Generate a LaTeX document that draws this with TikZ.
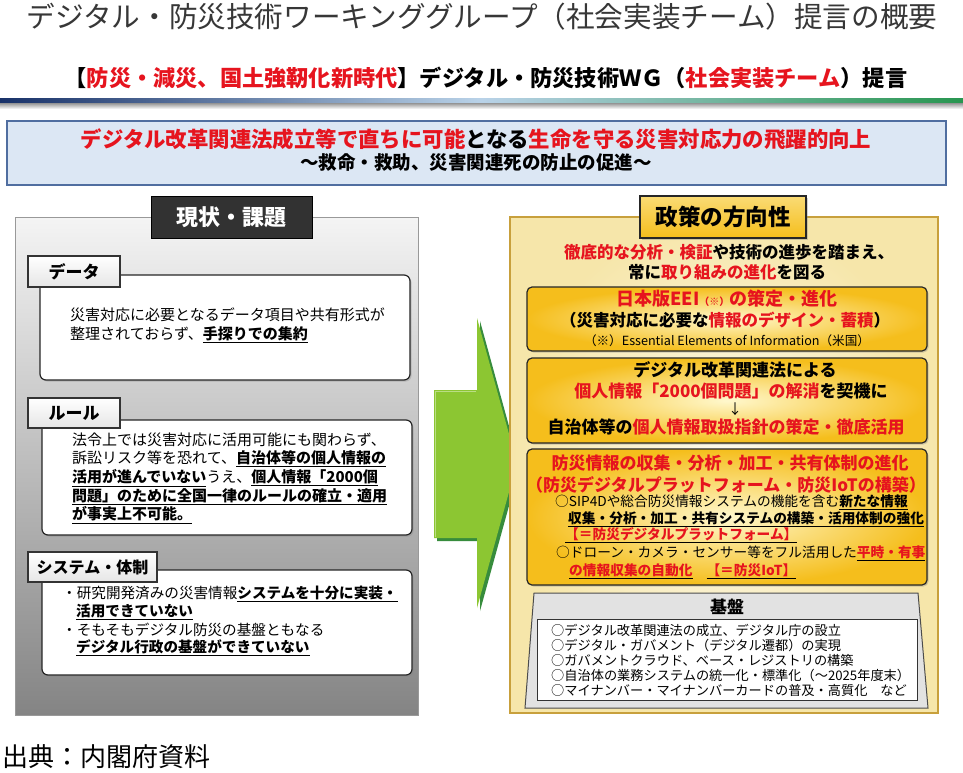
\documentclass[tikz,border=0pt]{standalone}
\usepackage{fontspec}
\setmainfont{Noto Sans CJK JP}
\usetikzlibrary{shadows}
\definecolor{jred}{RGB}{230,20,30}
\definecolor{ttl}{RGB}{55,55,55}
\definecolor{barnavy}{RGB}{25,50,105}
\definecolor{barblue}{RGB}{185,210,232}
\definecolor{bargreen}{RGB}{40,150,80}
\definecolor{headfill}{RGB}{220,231,244}
\definecolor{headdraw}{RGB}{80,110,160}
\definecolor{lgtop}{RGB}{244,244,244}
\definecolor{lgbot}{RGB}{132,132,132}
\definecolor{darkhd}{RGB}{50,50,50}
\definecolor{goldline}{RGB}{200,160,60}
\definecolor{goldfill}{RGB}{245,190,28}
\definecolor{goldlight}{RGB}{255,248,205}
\definecolor{cream}{RGB}{254,251,238}
\definecolor{creamdark}{RGB}{246,230,170}
\definecolor{agreen}{RGB}{140,198,50}
\definecolor{adark}{RGB}{55,140,60}
\definecolor{kiban}{RGB}{226,226,226}
\newcommand{\fs}[2]{\fontsize{#1}{#2}\selectfont}
\newcommand{\uln}[1]{\underline{#1}}
\newcommand{\rd}[1]{\textcolor{jred}{#1}}
\tikzset{
  ln/.style={anchor=west, inner sep=0pt},
  lc/.style={anchor=center, inner sep=0pt},
  tabbox/.style={draw=black!80, line width=1.3pt, top color=white, bottom color=black!10, inner sep=0pt},
  card/.style={draw=black!85, line width=1.2pt, rounded corners=6pt, fill=white, inner sep=0pt,
     drop shadow={opacity=0.35, shadow xshift=1.5pt, shadow yshift=-1.5pt}},
  gbox/.style={draw=black!85, line width=1.2pt, rounded corners=5pt, inner color=goldlight, outer color=goldfill, inner sep=0pt,
     drop shadow={opacity=0.35, shadow xshift=1.5pt, shadow yshift=-1.5pt}},
  lft/.style={font=\fs{15}{18}},
  rgt/.style={font=\fs{13.7}{17}},
  kb/.style={font=\fs{13.2}{15}}
}
\begin{document}
\begin{tikzpicture}[x=1pt,y=-1pt]
\useasboundingbox (0,0) rectangle (963,773);
\fill[white] (0,0) rectangle (963,773);

% title
\node[lc, text=ttl, font=\fs{28.6}{32}] (title) at (482,17) {デジタル・防災技術ワーキンググループ（社会実装チーム）提言の概要};
\node[lc, font=\fs{22.2}{25}\bfseries] (sub) at (486,78) {【\rd{防災・減災、国土強靭化新時代}】デジタル・防災技術ＷＧ（\rd{社会実装チーム}）提言};
\shade[left color=barnavy, right color=bargreen, middle color=barblue] (0,99) rectangle (963,104);
\shade[top color=black!35, bottom color=white] (0,104) rectangle (963,109);

% headline box
\node[draw=headdraw, line width=1.3pt, fill=headfill, minimum width=939, minimum height=64, inner sep=0pt] (headbox) at (476.5,153) {};
\node[lc, font=\fs{21.4}{24}\bfseries, text=jred] (head1) at (476,139) {デジタル改革関連法成立等で直ちに可能\textcolor{black}{となる}生命を守る災害対応力の飛躍的向上};
\node[lc, font=\fs{18.5}{22}\bfseries] (head2) at (476,163) {～救命・救助、災害関連死の防止の促進～};

% left panel
\node[draw=black!40, line width=1pt, top color=lgtop, bottom color=lgbot, minimum width=403, minimum height=498, inner sep=0pt] (lpanel) at (216.5,466) {};
\node[fill=darkhd, draw=black, minimum width=161, minimum height=42, text=white, font=\fs{22}{26}\bfseries, inner sep=0pt] (lhead) at (231.5,217) {現状・課題};

% data
\node[card, minimum width=370, minimum height=105] (c1) at (225,327.5) {};
\node[tabbox, minimum width=92, minimum height=31, font=\fs{17}{20}\bfseries] (tab1) at (74,271.5) {データ};
\node[ln, lft] (d1) at (70,315) {災害対応に必要となるデータ項目や共有形式が};
\node[ln, lft] (d2) at (70,335) {整理されておらず、\uln{\bfseries 手探りでの集約}};

% rule
\node[card, minimum width=370, minimum height=115] (c2) at (227,477.5) {};
\node[tabbox, minimum width=92, minimum height=30, font=\fs{17}{20}\bfseries] (tab2) at (74,413) {ルール};
\node[ln, lft] (r1) at (72,440) {法令上では災害対応に活用可能にも関わらず、};
\node[ln, lft] (r2) at (72,459) {訴訟リスク等を恐れて、\uln{\bfseries 自治体等の個人情報の}};
\node[ln, lft] (r3) at (72,478) {\uln{\bfseries 活用が進んでいない}うえ、\uln{\bfseries 個人情報「2000個}};
\node[ln, lft] (r4) at (72,497) {\uln{\bfseries 問題」のために全国一律のルールの確立・適用}};
\node[ln, lft] (r5) at (72,515) {\uln{\bfseries が事実上不可能。}};

% system
\node[card, minimum width=370, minimum height=105] (c3) at (227,622.5) {};
\node[tabbox, minimum width=129, minimum height=30, font=\fs{16}{19}\bfseries] (tab3) at (92.5,567) {システム・体制};
\node[ln, font=\fs{14.6}{18}] (s1) at (62,594) {・研究開発済みの災害情報\uln{\bfseries システムを十分に実装・}};
\node[ln, font=\fs{14.6}{18}] (s2) at (76,612) {\uln{\bfseries 活用できていない}};
\node[ln, font=\fs{14.6}{18}] (s3) at (62,630) {・そもそもデジタル防災の基盤ともなる};
\node[ln, font=\fs{14.6}{18}] (s4) at (76,648) {\uln{\bfseries デジタル行政の基盤ができていない}};

% source
\node[ln, font=\fs{26}{29}] (src) at (2,757) {出典：内閣府資料};

% arrow
\fill[adark] (437,393) -- (480,393) -- (480,321) -- (520,466) -- (480,611) -- (480,541) -- (437,541) -- cycle;
\fill[agreen] (434,390) -- (477,390) -- (477,318) -- (517,463) -- (477,608) -- (477,538) -- (434,538) -- cycle;
\draw[agreen!60!white, line width=1pt] (435,537) -- (435,391) -- (476,391);

% right panel
\node[draw=goldline, line width=2.5pt, inner color=cream, outer color=creamdark, minimum width=428, minimum height=496, inner sep=0pt] (rpanel) at (724,465) {};
\node[draw=black!85, line width=1.2pt, top color=goldlight!50!goldfill, bottom color=goldfill, minimum width=166, minimum height=42, font=\fs{22.5}{26}\bfseries, inner sep=0pt,
  drop shadow={opacity=0.35, shadow xshift=1.5pt, shadow yshift=-1.5pt}] (rhead) at (723,217) {政策の方向性};
\node[lc, font=\fs{16.5}{20}\bfseries] (i1) at (729,252) {\rd{徹底的な分析・検証}や技術の進歩を踏まえ、};
\node[lc, font=\fs{16.5}{20}\bfseries] (i2) at (727,272) {常に\rd{取り組みの進化}を図る};

% box 1
\node[gbox, minimum width=400, minimum height=64] (b1) at (727,319) {};
\node[lc, font=\fs{18}{21}\bfseries, text=jred] (b1a) at (727,299) {日本版EEI{\fs{10}{12}（※）}の策定・進化};
\node[lc, font=\fs{16.5}{20}\bfseries] (b1b) at (725,320) {（災害対応に必要な\rd{情報のデザイン・蓄積}）};
\node[lc, font=\fs{12.6}{15}] (b1c) at (727,341) {（※）Essential Elements of Information（米国）};

% box 2
\node[gbox, minimum width=400, minimum height=85] (b2) at (727,400.5) {};
\node[lc, font=\fs{17}{20}\bfseries] (b2a) at (735,370) {デジタル改革関連法による};
\node[lc, font=\fs{17}{20}\bfseries] (b2b) at (731,391) {\rd{個人情報「2000個問題」の解消}を契機に};
\node[lc, font=\fs{14}{16}] (b2c) at (735,409) {↓};
\node[lc, font=\fs{17}{20}\bfseries] (b2d) at (726,427) {自治体等の\rd{個人情報取扱指針の策定・徹底活用}};

% box 3
\node[gbox, minimum width=400, minimum height=136] (b3) at (727,517) {};
\node[lc, font=\fs{17}{20}\bfseries, text=jred] (b3a) at (730,463) {防災情報の収集・分析・加工・共有体制の進化};
\node[lc, font=\fs{17}{20}\bfseries, text=jred] (b3b) at (726,485) {（防災デジタルプラットフォーム・防災IoTの構築）};
\node[ln, rgt] (b3c) at (555,502) {○SIP4Dや総合防災情報システムの機能を含む\uln{\bfseries 新たな情報}};
\node[ln, rgt] (b3d) at (568,519) {\uln{\bfseries 収集・分析・加工・共有システムの構築・活用体制の強化}};
\node[ln, rgt] (b3e) at (565,535) {\uln{\bfseries\rd{【＝防災デジタルプラットフォーム】}}};
\node[ln, rgt] (b3f) at (556,553) {○ドローン・カメラ・センサー等をフル活用した\uln{\bfseries\rd{平時・有事}}};
\node[ln, rgt] (b3g) at (569,571) {\uln{\bfseries\rd{の情報収集の自動化}}\hspace{14pt}\uln{\bfseries\rd{【＝防災IoT】}}};

% kiban
\draw[draw=black!70, line width=1pt, fill=kiban] (534,593) -- (918,593) -- (928,708) -- (525,708) -- cycle;
\node[lc, font=\fs{17}{20}\bfseries] (kbt) at (727,607) {基盤};
\node[draw=black!80, line width=1pt, fill=white, minimum width=380, minimum height=81, inner sep=0pt] (kbbox) at (727,659.5) {};
\node[ln, kb] (k1) at (551,630) {○デジタル改革関連法の成立、デジタル庁の設立};
\node[ln, kb] (k2) at (551,645) {○デジタル・ガバメント（デジタル遷都）の実現};
\node[ln, kb] (k3) at (551,660) {○ガバメントクラウド、ベース・レジストリの構築};
\node[ln, kb] (k4) at (551,675) {○自治体の業務システムの統一化・標準化（～2025年度末）};
\node[ln, kb] (k5) at (551,690) {○マイナンバー・マイナンバーカードの普及・高質化\hspace{13pt}など};
\end{tikzpicture}
\end{document}
